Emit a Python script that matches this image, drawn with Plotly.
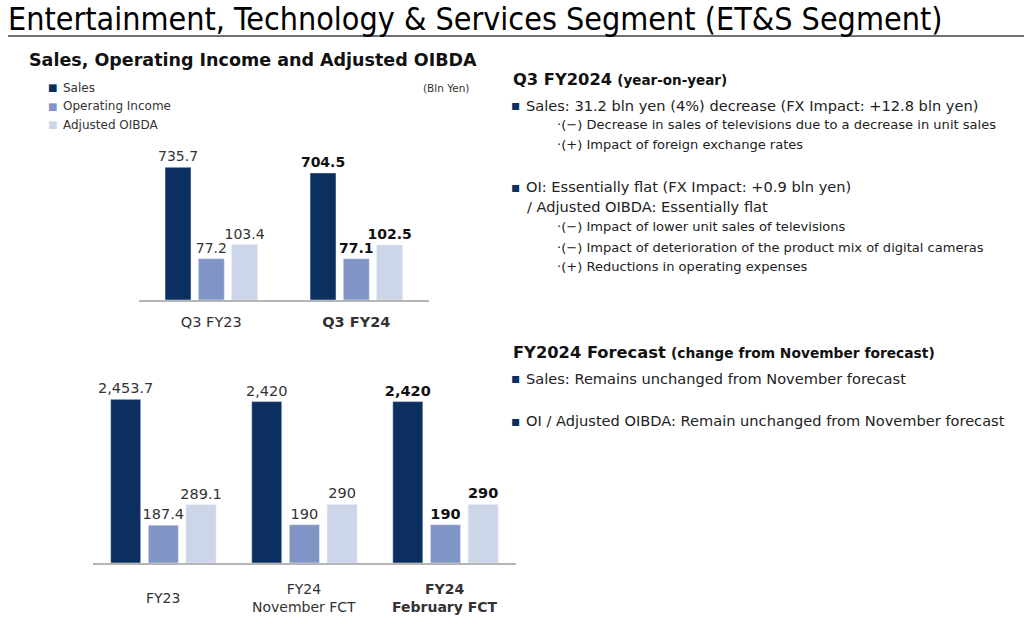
import plotly.graph_objects as go

# ---------------- data ----------------
series_names = ["Sales", "Operating Income", "Adjusted OIBDA"]

q_categories = ["Q3 FY23", "Q3 FY24"]
q_tick_labels = ["Q3 FY23", "<b>Q3 FY24</b>"]
q_sales = [735.7, 704.5]
q_oi = [77.2, 77.1]
q_oibda = [103.4, 102.5]

fy_categories = ["FY23", "FY24 November FCT", "FY24 February FCT"]
fy_tick_labels = ["FY23", "FY24<br>November FCT", "<b>FY24<br>February FCT</b>"]
fy_sales = [2453.7, 2420, 2420]
fy_oi = [187.4, 190, 190]
fy_oibda = [289.1, 290, 290]

# ---------------- style ----------------
W, H = 1024, 624
C_SALES = "#0b2f5f"
C_OI = "#8095c6"
C_OIBDA = "#cdd5e8"
TXT = "#333333"
FONT = "DejaVu Sans, Verdana, sans-serif"


def px(x):
    return x / W


def py(y):
    return 1 - y / H


def fmt(v):
    return f"{v:,.0f}" if float(v).is_integer() else f"{v:,.1f}"


def labels(vals, bold_last=True):
    out = []
    for i, v in enumerate(vals):
        s = fmt(v)
        if bold_last and i == len(vals) - 1:
            s = f"<b>{s}</b>"
        out.append(s)
    return out


def label_colors(n):
    return [TXT] * (n - 1) + ["#111111"]


fig = go.Figure()

# top chart (Q3)
q_width = 0.179
q_offsets = [-0.319, -0.0895, 0.140]
for name, vals, col, off, ya in [
    ("Sales", q_sales, C_SALES, q_offsets[0], "y2"),
    ("Operating Income", q_oi, C_OI, q_offsets[1], "y"),
    ("Adjusted OIBDA", q_oibda, C_OIBDA, q_offsets[2], "y"),
]:
    fig.add_trace(go.Bar(
        x=q_categories, y=vals, name=name, marker_color=col,
        width=q_width, offset=off, xaxis="x", yaxis=ya,
        text=labels(vals), textposition="outside", constraintext="none",
        textfont=dict(family=FONT, size=14, color=label_colors(len(vals))),
        cliponaxis=False, showlegend=False, hoverinfo="skip",
    ))

# bottom chart (FY)
fy_width = 0.213
fy_offsets = [-0.3735, -0.1065, 0.1605]
for name, vals, col, off, ya in [
    ("Sales", fy_sales, C_SALES, fy_offsets[0], "y4"),
    ("Operating Income", fy_oi, C_OI, fy_offsets[1], "y3"),
    ("Adjusted OIBDA", fy_oibda, C_OIBDA, fy_offsets[2], "y3"),
]:
    fig.add_trace(go.Bar(
        x=fy_categories, y=vals, name=name, marker_color=col,
        width=fy_width, offset=off, xaxis="x2", yaxis=ya,
        text=labels(vals), textposition="outside", constraintext="none",
        textfont=dict(family=FONT, size=14.5, color=label_colors(len(vals))),
        cliponaxis=False, showlegend=False, hoverinfo="skip",
    ))

axis_line = dict(showline=True, linecolor="#b5b5b5", linewidth=2, ticks="",
                 showgrid=False, zeroline=False, fixedrange=True)

fig.update_layout(
    width=W, height=H,
    margin=dict(l=0, r=0, t=0, b=0),
    paper_bgcolor="white", plot_bgcolor="rgba(0,0,0,0)",
    font=dict(family=FONT, color=TXT),
    showlegend=False,
    xaxis=dict(domain=[px(138.8), px(428.8)], range=[-0.5, 1.5], type="category",
               anchor="y", tickvals=q_categories, ticktext=q_tick_labels,
               tickfont=dict(size=14.5, color=TXT), ticklabelstandoff=8, **axis_line),
    yaxis=dict(domain=[py(300), py(150)], range=[0, 280], visible=False, anchor="x"),
    yaxis2=dict(domain=[py(300), py(150)], range=[0, 831.5], visible=False,
                overlaying="y", anchor="x"),
    xaxis2=dict(domain=[px(92.8), px(516)], range=[-0.5, 2.5], type="category",
                anchor="y3", showticklabels=False, **axis_line),
    yaxis3=dict(domain=[py(563), py(380)], range=[0, 907], visible=False, anchor="x2"),
    yaxis4=dict(domain=[py(563), py(380)], range=[0, 2744], visible=False,
                overlaying="y3", anchor="x2"),
)

ann = []

# bottom chart category labels
for cat, lab in zip(fy_categories, fy_tick_labels):
    ann.append(dict(xref="x2", yref="paper", x=cat, y=py(597.5), text=lab,
                    showarrow=False, xanchor="center", yanchor="middle",
                    font=dict(size=14, color=TXT)))

# main title
ann.append(dict(xref="paper", yref="paper", x=px(6), y=py(19),
                text="Entertainment, Technology &amp; Services Segment (ET&amp;S Segment)",
                showarrow=False, xanchor="left", yanchor="middle",
                font=dict(family="DejaVu Sans Condensed, Liberation Sans Narrow, Roboto, sans-serif",
                          size=32, color="#000000")))

# chart title
ann.append(dict(xref="paper", yref="paper", x=px(27), y=py(60),
                text="<b>Sales, Operating Income and Adjusted OIBDA</b>",
                showarrow=False, xanchor="left", yanchor="middle",
                font=dict(size=17.5, color="#111111")))

# legend (manual)
for name, col, yy in zip(series_names, [C_SALES, C_OI, C_OIBDA], [87.7, 106, 125]):
    ann.append(dict(xref="paper", yref="paper", x=px(52.7), y=py(yy), text="■",
                    showarrow=False, xanchor="center", yanchor="middle",
                    font=dict(size=10, color=col)))
    ann.append(dict(xref="paper", yref="paper", x=px(61), y=py(yy), text=name,
                    showarrow=False, xanchor="left", yanchor="middle",
                    font=dict(size=12, color=TXT)))

ann.append(dict(xref="paper", yref="paper", x=px(471), y=py(87.7), text="(Bln Yen)",
                showarrow=False, xanchor="right", yanchor="middle",
                font=dict(size=10.5, color=TXT)))

# right-hand commentary
headings = [
    (79, "<b>Q3 FY2024</b> <b><span style='font-size:13.5px'>(year-on-year)</span></b>"),
    (352.7, "<b>FY2024 Forecast</b> <b><span style='font-size:13.8px'>(change from November forecast)</span></b>"),
]
for yy, t in headings:
    ann.append(dict(xref="paper", yref="paper", x=px(511), y=py(yy), text=t,
                    showarrow=False, xanchor="left", yanchor="middle",
                    font=dict(size=16.3, color="#111111")))

bullets = [
    (105, "Sales: 31.2 bln yen (4%) decrease (FX Impact: +12.8 bln yen)", True),
    (186.7, "OI: Essentially flat (FX Impact: +0.9 bln yen)", True),
    (206.7, "/ Adjusted OIBDA: Essentially flat", False),
    (378.3, "Sales: Remains unchanged from November forecast", True),
    (420.7, "OI / Adjusted OIBDA: Remain unchanged from November forecast", True),
]
for yy, t, sq in bullets:
    if sq:
        ann.append(dict(xref="paper", yref="paper", x=px(515.5), y=py(yy), text="▪",
                        showarrow=False, xanchor="center", yanchor="middle",
                        font=dict(size=14, color=C_SALES)))
    ann.append(dict(xref="paper", yref="paper", x=px(523.5 if sq else 525), y=py(yy), text=t,
                    showarrow=False, xanchor="left", yanchor="middle",
                    font=dict(size=14.6, color="#222222")))

subs = [
    (124.3, "·(−) Decrease in sales of televisions due to a decrease in unit sales"),
    (144, "·(+) Impact of foreign exchange rates"),
    (226.7, "·(−) Impact of lower unit sales of televisions"),
    (247.3, "·(−) Impact of deterioration of the product mix of digital cameras"),
    (266.7, "·(+) Reductions in operating expenses"),
]
for yy, t in subs:
    ann.append(dict(xref="paper", yref="paper", x=px(555), y=py(yy), text=t,
                    showarrow=False, xanchor="left", yanchor="middle",
                    font=dict(size=13.05, color="#222222")))

fig.update_layout(annotations=ann)

# title underline
fig.add_shape(type="line", xref="paper", yref="paper", x0=px(8), x1=1, y0=py(36), y1=py(36),
              line=dict(color="#707070", width=2))

fig.write_html("out.html")
